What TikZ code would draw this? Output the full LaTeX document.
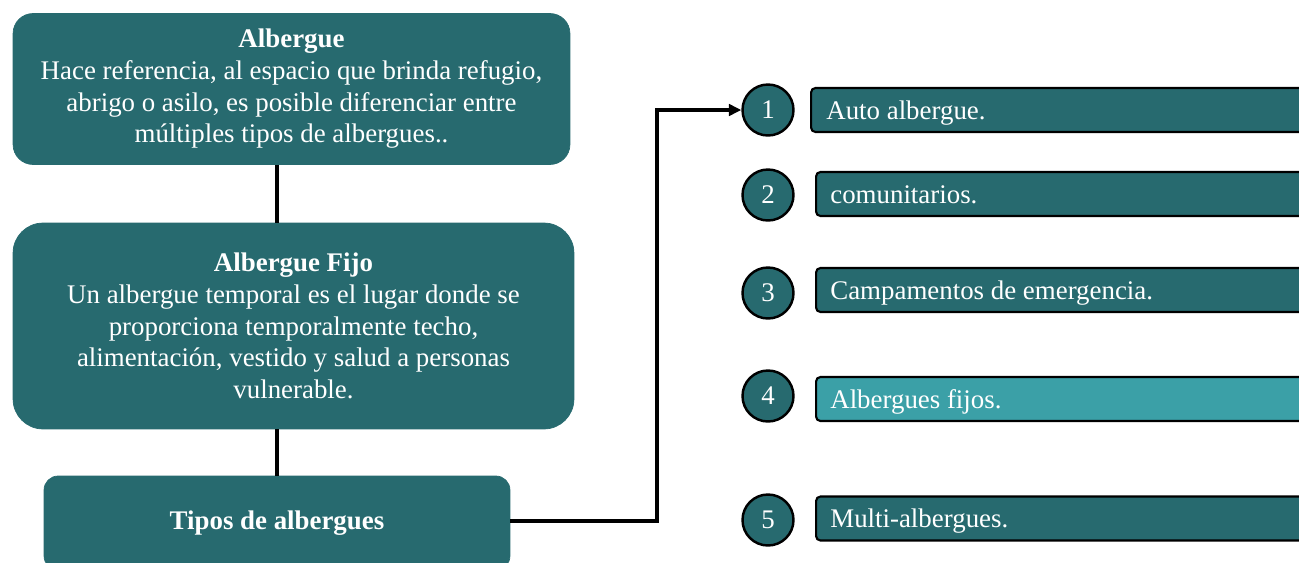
\documentclass[tikz,border=0pt]{standalone}
\usepackage{fontspec}
\setmainfont{Liberation Serif}
\usetikzlibrary{arrows.meta}
\definecolor{tealdark}{RGB}{39,106,111}
\definecolor{teallight}{RGB}{59,160,167}
\begin{document}
\begin{tikzpicture}[x=0.02cm,y=-0.02cm,
  every node/.style={font=\fontsize{15.3}{18}\selectfont, text=white},
  bigbox/.style={fill=tealdark, draw=tealdark, align=center, inner sep=0pt},
  numcirc/.style={circle, fill=tealdark, draw=black, line width=1.4pt, minimum size=1.02cm, inner sep=0pt},
  itembox/.style={anchor=west, fill=tealdark, draw=black, line width=1.2pt, rounded corners=2.5pt,
    minimum height=0.88cm, minimum width=10cm, inner sep=0pt},
  itemtext/.style={anchor=base west, inner sep=0pt},
  conn/.style={line width=2pt, draw=black},
  arr/.style={line width=1.9pt, draw=black, -{Triangle[length=7pt,width=6.5pt]}}]
\useasboundingbox (0,0) rectangle (1299,562);
\clip (0,0) rectangle (1299,562);

\node[bigbox, minimum width=11.14cm, minimum height=3.02cm, rounded corners=0.4cm] (box1) at (291.5,89)
  {\textbf{Albergue}\\Hace referencia, al espacio que brinda refugio,\\abrigo o asilo, es posible diferenciar entre\\múltiples tipos de albergues..};

\node[bigbox, minimum width=11.22cm, minimum height=4.12cm, rounded corners=0.6cm] (box2) at (293.5,326)
  {\textbf{Albergue Fijo}\\Un albergue temporal es el lugar donde se\\proporciona temporalmente techo,\\alimentación, vestido y salud a personas\\vulnerable.};

\node[bigbox, minimum width=9.32cm, minimum height=1.88cm, rounded corners=0.28cm] (box3) at (277,523)
  {\textbf{Tipos de albergues}};

\draw[conn] (box1.south -| box3.north) -- (box2.north -| box3.north);
\draw[conn] (box2.south -| box3.north) -- (box3.north);

\node[numcirc] (c1) at (768,110) {1};
\node[numcirc] (c2) at (768,195) {2};
\node[numcirc] (c3) at (768,293) {3};
\node[numcirc] (c4) at (768,396) {4};
\node[numcirc] (c5) at (768,520) {5};

\node[itembox] (r1) at (810,110) {};
\node[itembox] (r2) at (815,194) {};
\node[itembox] (r3) at (815,290) {};
\node[itembox, fill=teallight] (r4) at (815,399) {};
\node[itembox] (r5) at (815,518.5) {};

\node[itemtext] (t1) at ([xshift=0.32cm,yshift=-0.18cm]r1.west) {Auto albergue.};
\node[itemtext] (t2) at ([xshift=0.3cm,yshift=-0.18cm]r2.west) {comunitarios.};
\node[itemtext] (t3) at ([xshift=0.3cm,yshift=-0.18cm]r3.west) {Campamentos de emergencia.};
\node[itemtext] (t4) at ([xshift=0.3cm,yshift=-0.18cm]r4.west) {Albergues fijos.};
\node[itemtext] (t5) at ([xshift=0.3cm,yshift=-0.18cm]r5.west) {Multi-albergues.};

\coordinate (bend) at (657,521);
\draw[arr] (box3.east |- bend) -- (bend) |- (c1.west);
\end{tikzpicture}
\end{document}
